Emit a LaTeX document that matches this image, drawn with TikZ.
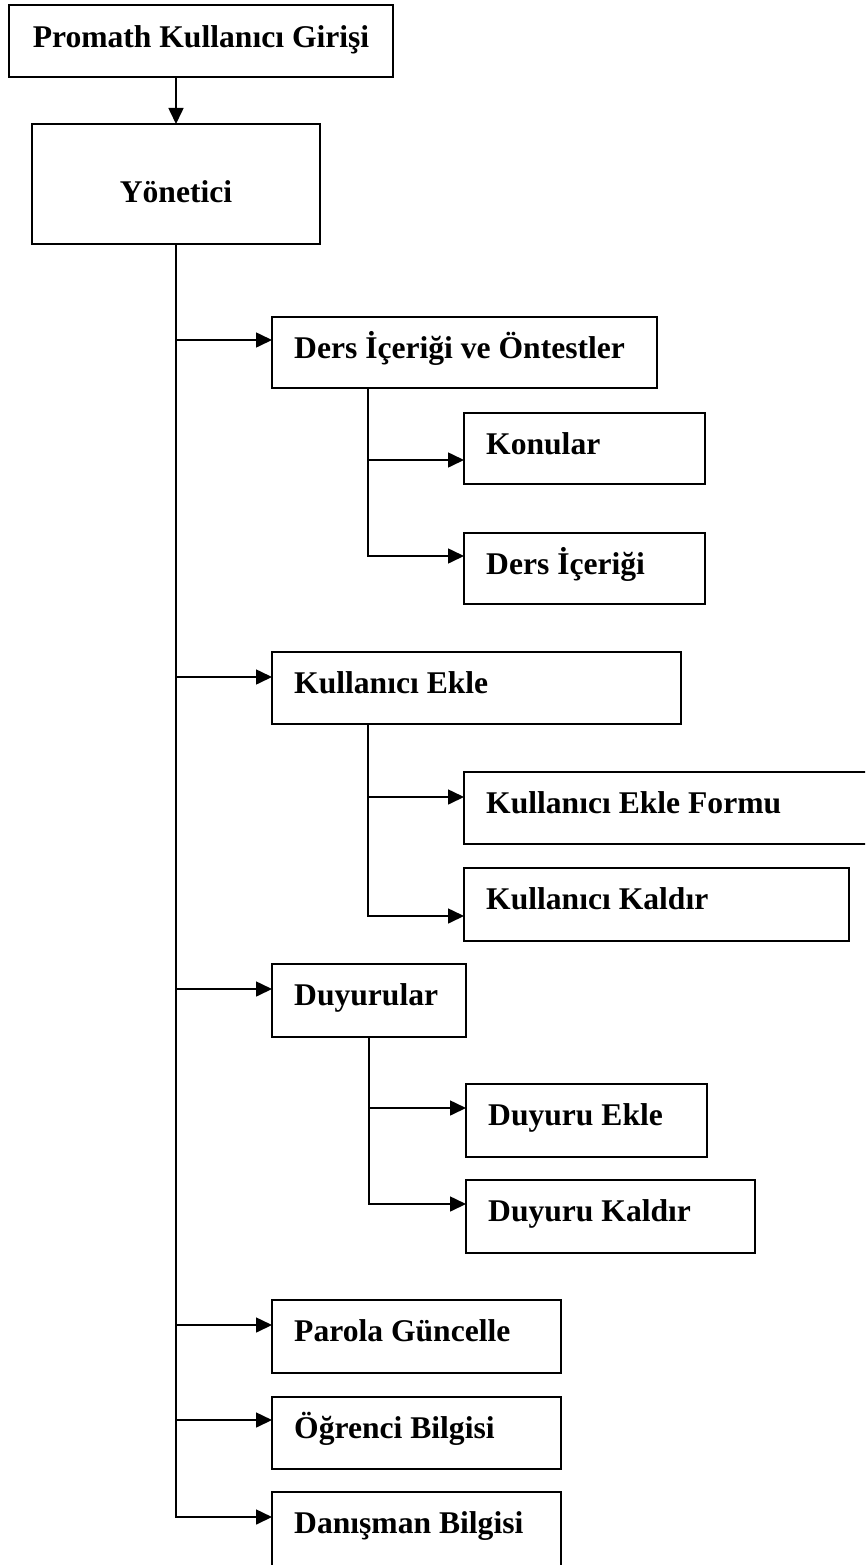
\documentclass[tikz,border=0pt]{standalone}
\usepackage{fontspec}
\setmainfont{Liberation Serif}
\usetikzlibrary{arrows.meta,calc}

\tikzset{
  box/.style={draw, line width=1.6pt, rectangle, anchor=north west,
              inner sep=0pt, outer sep=0pt},
  lbl/.style={anchor=base west, inner sep=0pt,
              font=\fontsize{31.6}{36}\selectfont\bfseries},
  ctr/.style={anchor=base, inner sep=0pt,
              font=\fontsize{31.6}{36}\selectfont\bfseries},
  link/.style={line width=1.6pt, line join=miter},
  arr/.style={link, -{Triangle[length=16pt,width=15pt]}}
}

\begin{document}
\begin{tikzpicture}[x=1pt,y=-1pt]
  \useasboundingbox (0,0) rectangle (865,1565);
  \clip (0,0) rectangle (865,1565);
  \fill[white] (0,0) rectangle (865,1565);

  % top of the hierarchy
  \node[box, minimum width=384pt, minimum height=72pt]  (login) at (9,5) {};
  \node[ctr] (loginT) at ([shift={(0,43)}]login.north) {Promath Kullanıcı Girişi};
  \node[box, minimum width=288pt, minimum height=120pt] (admin) at (32,124) {};
  \node[ctr] (adminT) at ([shift={(0,78)}]admin.north) {Yönetici};

  % first level
  \node[box, minimum width=385pt, minimum height=71pt] (ders)  at (272,317)  {};
  \node[box, minimum width=409pt, minimum height=72pt] (kekle) at (272,652)  {};
  \node[box, minimum width=194pt, minimum height=73pt] (duyur) at (272,964)  {};
  \node[box, minimum width=289pt, minimum height=73pt] (parola) at (272,1300) {};
  \node[box, minimum width=289pt, minimum height=72pt] (ogr)   at (272,1397) {};
  \node[box, minimum width=289pt, minimum height=76pt] (dan)   at (272,1492) {};

  % second level
  \node[box, minimum width=241pt, minimum height=71pt] (konu)  at (464,413)  {};
  \node[box, minimum width=241pt, minimum height=71pt] (dic)   at (464,533)  {};
  \node[box, minimum width=410pt, minimum height=72pt] (kform) at (464,772)  {};
  \node[box, minimum width=385pt, minimum height=73pt] (kkal)  at (464,868)  {};
  \node[box, minimum width=241pt, minimum height=73pt] (dekle) at (466,1084) {};
  \node[box, minimum width=289pt, minimum height=73pt] (dkal)  at (466,1180) {};

  % captions
  \node[lbl] (dersT)   at ([shift={(22,41)}]ders.north west)   {Ders İçeriği ve Öntestler};
  \node[lbl] (konuT)   at ([shift={(22,41)}]konu.north west)   {Konular};
  \node[lbl] (dicT)    at ([shift={(22,41)}]dic.north west)    {Ders İçeriği};
  \node[lbl] (kekleT)  at ([shift={(22,41)}]kekle.north west)  {Kullanıcı Ekle};
  \node[lbl] (kformT)  at ([shift={(22,41)}]kform.north west)  {Kullanıcı Ekle Formu};
  \node[lbl] (kkalT)   at ([shift={(22,41)}]kkal.north west)   {Kullanıcı Kaldır};
  \node[lbl] (duyurT)  at ([shift={(22,41)}]duyur.north west)  {Duyurular};
  \node[lbl] (dekleT)  at ([shift={(22,41)}]dekle.north west)  {Duyuru Ekle};
  \node[lbl] (dkalT)   at ([shift={(22,41)}]dkal.north west)   {Duyuru Kaldır};
  \node[lbl] (parolaT) at ([shift={(22,41)}]parola.north west) {Parola Güncelle};
  \node[lbl] (ogrT)    at ([shift={(22,41)}]ogr.north west)    {Öğrenci Bilgisi};
  \node[lbl] (danT)    at ([shift={(22,41)}]dan.north west)    {Danışman Bilgisi};

  % branch points on the main trunk
  \coordinate (t1) at (176,340);
  \coordinate (t2) at (176,677);
  \coordinate (t3) at (176,989);
  \coordinate (t4) at (176,1325);
  \coordinate (t5) at (176,1420);
  \coordinate (t6) at (176,1517);

  % branch points on the sub-trunks
  \coordinate (a1) at (368,460);
  \coordinate (a2) at (368,556);
  \coordinate (b1) at (368,797);
  \coordinate (b2) at (368,916);
  \coordinate (c1) at (369,1108);
  \coordinate (c2) at (369,1204);

  % login -> admin
  \draw[arr] (login.south -| admin.north) -- (admin.north);

  % main trunk
  \draw[arr] (admin.south) -- (t6) -- (t6 -| dan.west);
  \draw[arr] (t1) -- (t1 -| ders.west);
  \draw[arr] (t2) -- (t2 -| kekle.west);
  \draw[arr] (t3) -- (t3 -| duyur.west);
  \draw[arr] (t4) -- (t4 -| parola.west);
  \draw[arr] (t5) -- (t5 -| ogr.west);

  % sub-trunks
  \draw[arr] (ders.south -| a1) -- (a2) -- (a2 -| dic.west);
  \draw[arr] (a1) -- (a1 -| konu.west);
  \draw[arr] (kekle.south -| b1) -- (b2) -- (b2 -| kkal.west);
  \draw[arr] (b1) -- (b1 -| kform.west);
  \draw[arr] (duyur.south -| c1) -- (c2) -- (c2 -| dkal.west);
  \draw[arr] (c1) -- (c1 -| dekle.west);
\end{tikzpicture}
\end{document}
